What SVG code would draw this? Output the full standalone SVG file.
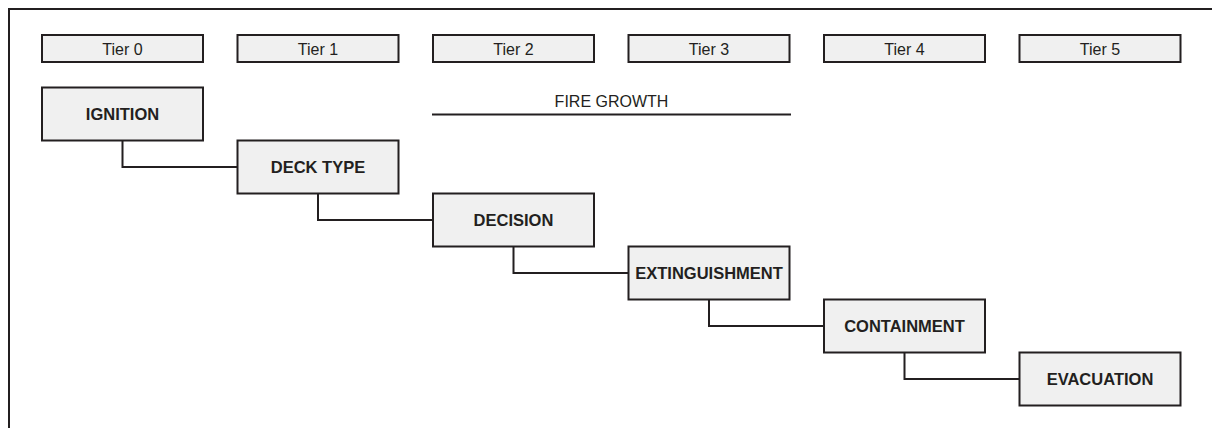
<svg xmlns="http://www.w3.org/2000/svg" width="1212" height="428" viewBox="0 0 1212 428">
<style>
.box{fill:#f0f0f0;stroke:#231f20;stroke-width:2}
.tier{font-family:"Liberation Sans",Arial,sans-serif;font-size:16px;fill:#231f20;text-anchor:middle}
.lbl{font-family:"Liberation Sans",Arial,sans-serif;font-size:16.5px;font-weight:bold;fill:#231f20;text-anchor:middle}
.ln{fill:none;stroke:#231f20;stroke-width:2}
</style>
<rect width="1212" height="428" fill="#ffffff"/>
<g id="frame">
<path class="ln" d="M9,428 V9 H1212"/>
</g>
<g id="tiers">
<g id="tier0"><rect class="box" x="42" y="35" width="161" height="27"/><text class="tier" x="122.5" y="54.5">Tier 0</text></g>
<g id="tier1"><rect class="box" x="237.5" y="35" width="161" height="27"/><text class="tier" x="318" y="54.5">Tier 1</text></g>
<g id="tier2"><rect class="box" x="433" y="35" width="161" height="27"/><text class="tier" x="513.5" y="54.5">Tier 2</text></g>
<g id="tier3"><rect class="box" x="628.5" y="35" width="161" height="27"/><text class="tier" x="709" y="54.5">Tier 3</text></g>
<g id="tier4"><rect class="box" x="824" y="35" width="161" height="27"/><text class="tier" x="904.5" y="54.5">Tier 4</text></g>
<g id="tier5"><rect class="box" x="1019.5" y="35" width="161" height="27"/><text class="tier" x="1100" y="54.5">Tier 5</text></g>
</g>
<g id="fire-growth">
<text class="tier" x="611.5" y="107">FIRE GROWTH</text>
<line class="ln" x1="432" y1="114.5" x2="791" y2="114.5"/>
</g>
<g id="connectors">
<path class="ln" d="M122.5,140.5 V167 H237.5"/>
<path class="ln" d="M318,193.5 V220 H433"/>
<path class="ln" d="M513.5,246.5 V273 H628.5"/>
<path class="ln" d="M709,299.5 V326 H824"/>
<path class="ln" d="M904.5,352.5 V379 H1019.5"/>
</g>
<g id="ignition"><rect class="box" x="42" y="87.5" width="161" height="53"/><text class="lbl" x="122.5" y="120">IGNITION</text></g>
<g id="deck-type"><rect class="box" x="237.5" y="140.5" width="161" height="53"/><text class="lbl" x="318" y="173">DECK TYPE</text></g>
<g id="decision"><rect class="box" x="433" y="193.5" width="161" height="53"/><text class="lbl" x="513.5" y="226">DECISION</text></g>
<g id="extinguishment"><rect class="box" x="628.5" y="246.5" width="161" height="53"/><text class="lbl" x="709" y="279">EXTINGUISHMENT</text></g>
<g id="containment"><rect class="box" x="824" y="299.5" width="161" height="53"/><text class="lbl" x="904.5" y="332">CONTAINMENT</text></g>
<g id="evacuation"><rect class="box" x="1019.5" y="352.5" width="161" height="53"/><text class="lbl" x="1100" y="385">EVACUATION</text></g>
</svg>
